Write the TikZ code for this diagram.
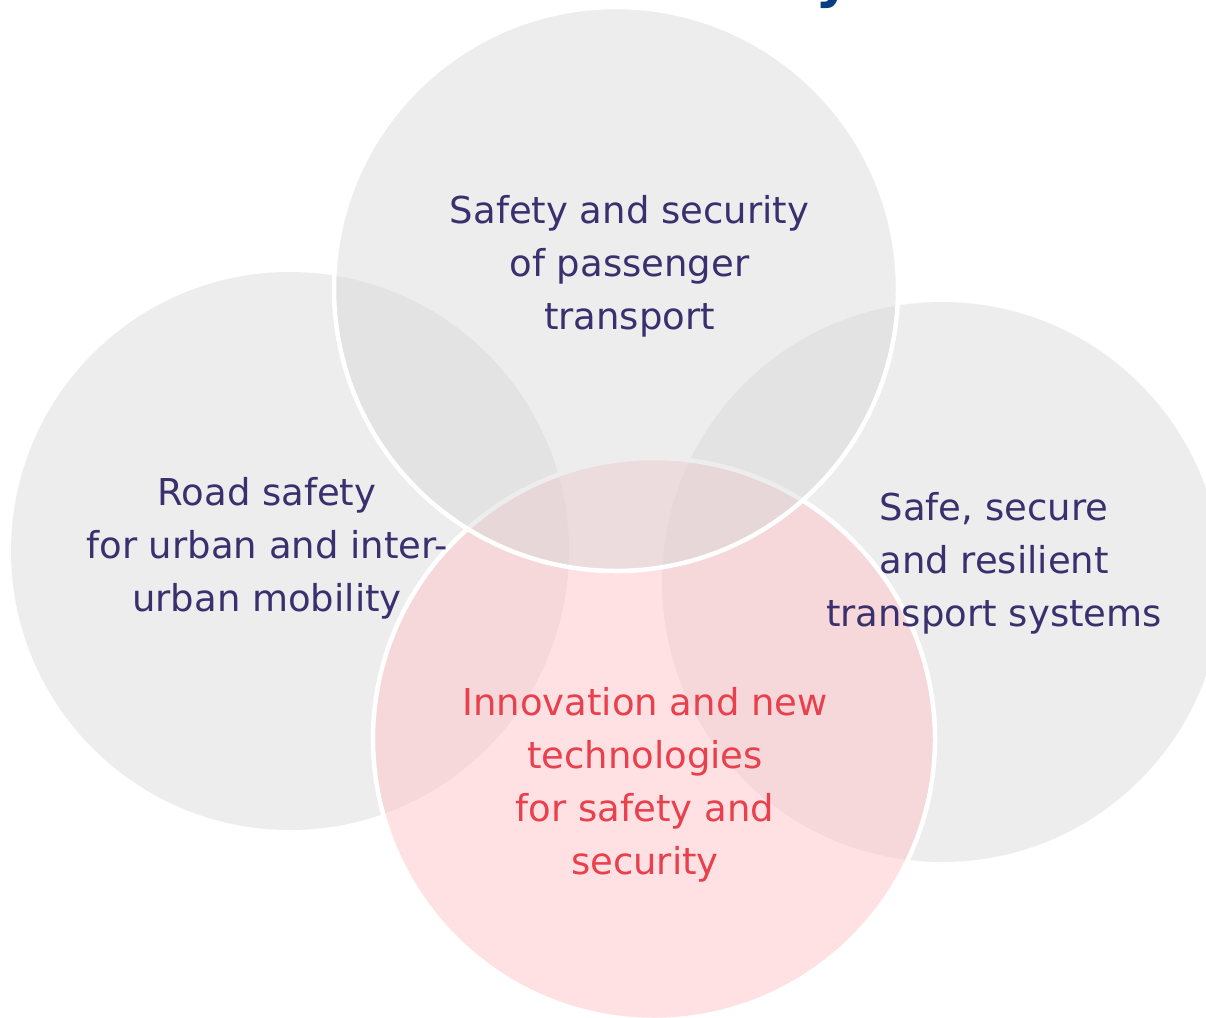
\documentclass[tikz,border=0pt]{standalone}
\usepackage{fontspec}
\setmainfont{DejaVu Sans}
\definecolor{navytext}{RGB}{58,48,110}
\definecolor{redtext}{RGB}{232,64,76}
\definecolor{titleblue}{RGB}{10,62,130}
\definecolor{circgrey}{RGB}{214,214,214}
\definecolor{circpink}{RGB}{255,197,201}
\tikzset{
  greyball/.style={circle, inner sep=0pt, minimum size=#1, fill=circgrey, fill opacity=0.42},
  ringball/.style={circle, inner sep=0pt, minimum size=#1, draw=white, draw opacity=1, line width=4.5pt},
  label text/.style={align=center, font=\fontsize{37}{53}\selectfont, text opacity=1},
}
\begin{document}
\begin{tikzpicture}[x=1pt,y=-1pt]
\useasboundingbox (0,0) rectangle (1206,1017);
\fill[white] (0,0) rectangle (1206,1017);
\clip (0,0) rectangle (1206,1017);
% title fragment (cut off at top, as in the reference)
\node[anchor=base, font=\fontsize{56}{60}\selectfont\bfseries, text=titleblue, inner sep=0pt] (title) at (834,-3) {y};
% circles
\node[greyball=558pt] (cleft) at (290,551) {};
\node[greyball=560pt] (cright) at (942,582) {};
\node[ringball=562pt, fill=circpink, fill opacity=0.5] (cbottom) at (654,739) {};
\node[ringball=564pt, fill=circgrey, fill opacity=0.42] (ctop) at (616,289) {};
% texts
\node[label text, text=navytext] (ttop) at (629.5,266) {Safety and security\\of passenger\\transport};
\node[label text, text=navytext] (tleft) at (267,548) {Road safety\\for urban and inter-\\urban mobility};
\node[label text, text=navytext] (tright) at (994,563) {Safe, secure\\and resilient\\transport systems};
\node[label text, text=redtext] (tbottom) at (645,785) {Innovation and new\\technologies\\for safety and\\security};
\end{tikzpicture}
\end{document}
